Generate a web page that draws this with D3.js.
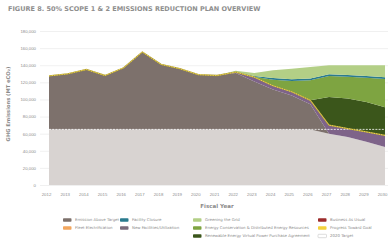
<!DOCTYPE html>
<meta charset="utf-8">

<!-- Load d3.js -->
<script src="https://d3js.org/d3.v7.min.js"></script>

<style>
body {
  margin: 0;
  padding: 0;
  background: white;
  font-family: 'DejaVu Sans', Arial, sans-serif;
}
.tick text {
  fill: #8c8c8c;
}
</style>

<body>
<div id="my_dataviz"></div>
</body>

<script>

// ---- data (values in MT eCO2) ----
var years = [2012, 2013, 2014, 2015, 2016, 2017, 2018, 2019, 2020, 2021,
             2022, 2023, 2024, 2025, 2026, 2027, 2028, 2029, 2030];

// light gray region under the 2020 target
var belowTarget   = [65000, 65000, 65000, 65000, 65000, 65000, 65000, 65000, 65000, 65000,
                     65000, 65000, 65000, 65000, 65000, 60000, 56000, 50500, 44500];
var aboveTarget   = [62500, 65000, 70000, 63000, 72000, 90500, 76000, 71000, 64000, 63000,
                     66000, 56000, 46500, 39500, 29500, 0, 0, 0, 0];
var newFacilities = [0, 0, 0, 0, 0, 0, 0, 0, 0, 0,
                     1000, 5000, 4500, 4500, 4500, 10000, 10000, 11500, 13500];
var renewableVPPA = [0, 0, 0, 0, 0, 0, 0, 0, 0, 0,
                     0, 0, 0, 0, 0, 33000, 35000, 35000, 33000];
var energyConservation = [0, 0, 0, 0, 0, 0, 0, 0, 0, 0,
                     0, 500, 7000, 12500, 23500, 24500, 25500, 28500, 33000];
var facilityClosure = [0, 0, 0, 0, 0, 0, 0, 0, 0, 0,
                     0, 1000, 2000, 2000, 2000, 2000, 2000, 2000, 2000];
var greeningGrid  = [0, 0, 0, 0, 0, 0, 0, 0, 0, 0,
                     1500, 3500, 9000, 12500, 13500, 10500, 11500, 12500, 14000];

var target2020 = 65000;
var yTicks = [0, 20000, 40000, 60000, 80000, 100000, 120000, 140000, 160000, 180000];

var legendItems = [
  {name: "Emission Above Target", color: "#7d716c", col: 0, row: 0},
  {name: "Fleet Electrification", color: "#f2a65e", col: 0, row: 1},
  {name: "Facility Closure", color: "#2a7b8e", col: 1, row: 0},
  {name: "New Facilities/Utilization", color: "#7a6c7c", col: 1, row: 1},
  {name: "Greening the Grid", color: "#b3cf86", col: 2, row: 0},
  {name: "Energy Conservation & Distributed Energy Resources", color: "#7ea441", col: 2, row: 1},
  {name: "Renewable Energy Virtual Power Purchase Agreement", color: "#3b561b", col: 2, row: 2},
  {name: "Business As Usual", color: "#9c2b2b", col: 3, row: 0},
  {name: "Progress Toward Goal", color: "#f4d23c", col: 3, row: 1},
  {name: "2020 Target", color: "#ffffff", col: 3, row: 2}
];

// ---- layout ----
var width = 390, height = 240;

var svg = d3.select("#my_dataviz")
  .append("svg")
    .attr("width", width)
    .attr("height", height);

var x = d3.scaleLinear()
  .domain([2012, 2030])
  .range([49, 385]);

var y = d3.scaleLinear()
  .domain([0, 180000])
  .range([185, 31]);

// title
svg.append("text")
  .attr("x", 8)
  .attr("y", 11)
  .style("font-size", "6.5px")
  .style("font-weight", "bold")
  .style("fill", "#8e8e8e")
  .text("FIGURE 8. 50% SCOPE 1 & 2 EMISSIONS REDUCTION PLAN OVERVIEW");

// y axis + gridlines
var yAxis = svg.append("g")
  .attr("transform", "translate(40,0)")
  .call(d3.axisLeft(y).tickValues(yTicks).tickSize(-348).tickPadding(4)
    .tickFormat(d3.format(",")));
yAxis.select(".domain").remove();
yAxis.selectAll("line").attr("stroke", "#e6e6e6").attr("stroke-width", 0.6);
yAxis.selectAll("text").style("font-size", "4.3px");

// build rows for stacking
var keys = ["belowTarget", "aboveTarget", "newFacilities", "renewableVPPA",
            "energyConservation", "facilityClosure", "greeningGrid"];
var colors = {
  belowTarget: "#d8d3d1",
  aboveTarget: "#7d716c",
  newFacilities: "#7e6389",
  renewableVPPA: "#3b561b",
  energyConservation: "#7ea441",
  facilityClosure: "#2a7b8e",
  greeningGrid: "#b3cf86"
};
var rows = years.map(function(yr, i) {
  return {
    year: yr,
    belowTarget: belowTarget[i],
    aboveTarget: aboveTarget[i],
    newFacilities: newFacilities[i],
    renewableVPPA: renewableVPPA[i],
    energyConservation: energyConservation[i],
    facilityClosure: facilityClosure[i],
    greeningGrid: greeningGrid[i]
  };
});

var stacked = d3.stack().keys(keys)(rows);

var area = d3.area()
  .x(function(d) { return x(d.data.year); })
  .y0(function(d) { return y(d[0]); })
  .y1(function(d) { return y(d[1]); });

svg.append("g")
  .selectAll("path")
  .data(stacked)
  .enter()
  .append("path")
    .attr("d", area)
    .attr("fill", function(d) { return colors[d.key]; });

// 2020 target (white dashed)
svg.append("line")
  .attr("x1", x(2012))
  .attr("x2", x(2030))
  .attr("y1", y(target2020))
  .attr("y2", y(target2020))
  .attr("stroke", "white")
  .attr("stroke-width", 0.8)
  .style("stroke-dasharray", "2,1.2");

// progress toward goal: top of emissions (gray + purple)
var progress = rows.map(function(d) {
  return {year: d.year, v: d.belowTarget + d.aboveTarget + d.newFacilities};
});
var line = d3.line()
  .x(function(d) { return x(d.year); })
  .y(function(d) { return y(d.v); });

svg.append("path")
  .datum(progress)
  .attr("d", line)
  .attr("fill", "none")
  .attr("stroke", "#a8963a")
  .attr("stroke-width", 1.3);
svg.append("path")
  .datum(progress)
  .attr("d", line)
  .attr("fill", "none")
  .attr("stroke", "#f4dc4e")
  .attr("stroke-width", 0.9)
  .style("stroke-dasharray", "1.5,1");

// x axis
var xAxis = svg.append("g")
  .attr("transform", "translate(0,185)")
  .call(d3.axisBottom(x).tickValues(years).tickSize(0).tickPadding(8)
    .tickFormat(d3.format("d")));
xAxis.select(".domain").remove();
xAxis.selectAll("text").style("font-size", "4.3px").attr("dx", -3);

// axis titles
svg.append("text")
  .attr("x", 217)
  .attr("y", 208)
  .attr("text-anchor", "middle")
  .style("font-size", "5.5px")
  .style("font-weight", "bold")
  .style("fill", "#8a8a8a")
  .text("Fiscal Year");

svg.append("text")
  .attr("transform", "translate(10,104) rotate(-90)")
  .attr("text-anchor", "middle")
  .style("font-size", "5.2px")
  .style("font-weight", "bold")
  .style("fill", "#8a8a8a")
  .text("GHG Emissions (MT eCO\u2082)");

// legend
var colX = [63, 120, 193, 318];
var rowY = [220, 228, 236];

var legend = svg.append("g")
  .selectAll("g")
  .data(legendItems)
  .enter()
  .append("g")
    .attr("transform", function(d) { return "translate(" + colX[d.col] + "," + rowY[d.row] + ")"; });

legend.append("rect")
  .attr("x", 0)
  .attr("y", -1.7)
  .attr("width", 8.5)
  .attr("height", 3.4)
  .attr("rx", 0.8)
  .attr("fill", function(d) { return d.color; })
  .attr("stroke", function(d) { return d.name == "2020 Target" ? "#bbbbbb" : "none"; })
  .attr("stroke-width", 0.5);

legend.append("text")
  .attr("x", 12)
  .attr("y", 0)
  .attr("dominant-baseline", "middle")
  .style("font-size", "3.9px")
  .style("fill", "#8c8c8c")
  .text(function(d) { return d.name; });

</script>
